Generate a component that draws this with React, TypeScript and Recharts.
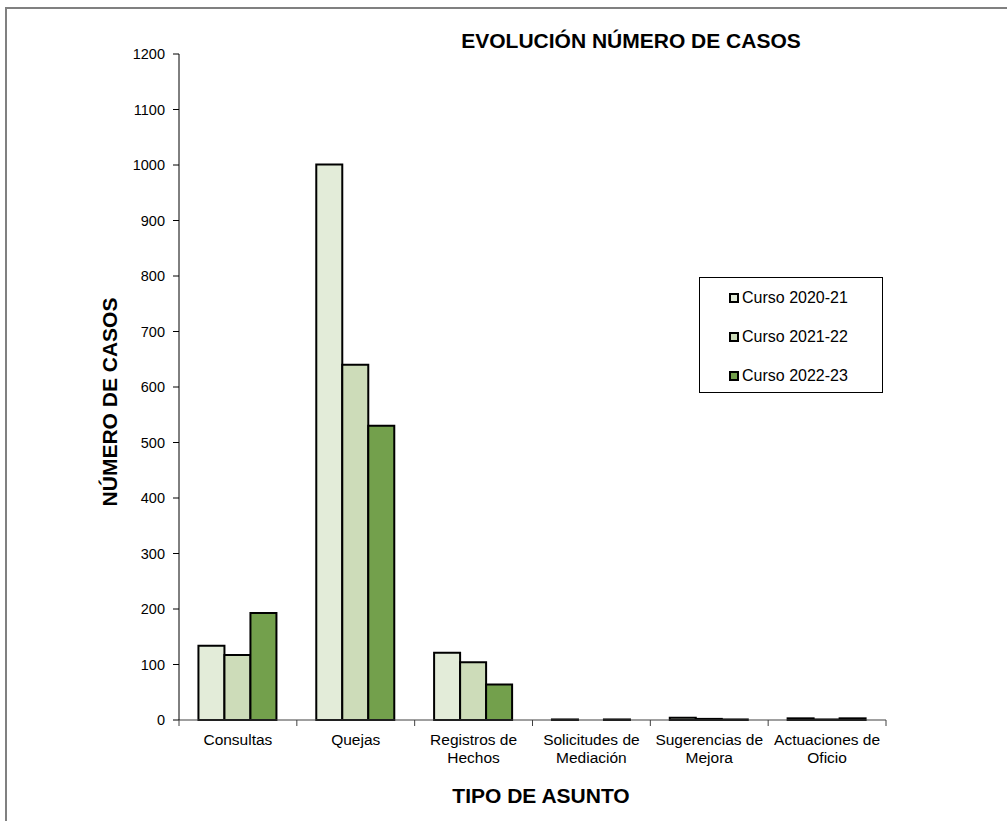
import React from 'react';
import { BarChart, Bar, XAxis, YAxis, Legend, Label } from 'recharts';

const categories = [
  'Consultas',
  'Quejas',
  'Registros de Hechos',
  'Solicitudes de Mediación',
  'Sugerencias de Mejora',
  'Actuaciones de Oficio',
];
const curso2021 = [134, 1001, 121, 1, 4, 3];
const curso2122 = [117, 640, 104, 0, 2, 1];
const curso2223 = [193, 530, 64, 1, 1, 3];
const seriesNames = ['Curso 2020-21', 'Curso 2021-22', 'Curso 2022-23'];
const seriesColors = ['#E3ECD9', '#CDDCB9', '#73A04C'];
const yTicks = [0, 100, 200, 300, 400, 500, 600, 700, 800, 900, 1000, 1100, 1200];

const FONT = '"Liberation Sans", Arial, sans-serif';
const PLOT_WIDTH = 707;

const data = categories.map((name, i) => ({
  name,
  c2021: curso2021[i],
  c2122: curso2122[i],
  c2223: curso2223[i],
}));

// category labels wrap the last word onto a second line, ticks sit on the boundaries
const CategoryTick = (props: any) => {
  const { x, y, payload, index } = props;
  const band = PLOT_WIDTH / categories.length;
  const words = String(payload.value).split(' ');
  const lines = words.length > 1 ? [words.slice(0, -1).join(' '), words[words.length - 1]] : words;
  return (
    <g>
      {index === 0 && <line x1={x - band / 2} x2={x - band / 2} y1={y} y2={y + 6} stroke="#404040" />}
      <line x1={x + band / 2} x2={x + band / 2} y1={y} y2={y + 6} stroke="#404040" />
      <text x={x} y={y} textAnchor="middle" fontSize={15.5} fontFamily={FONT} fill="#000">
        {lines.map((l, i) => (
          <tspan key={i} x={x} dy={i === 0 ? 25 : 18}>{l}</tspan>
        ))}
      </text>
    </g>
  );
};

const LegendBox = (props: any) => {
  const { payload } = props;
  return (
    <div style={{ boxSizing: 'border-box', width: 184, height: 116, border: '1px solid #000', paddingTop: 0.5, background: '#fff', fontFamily: FONT, fontSize: 16, color: '#000' }}>
      {(payload || []).map((entry: any) => (
        <div key={entry.value} style={{ height: 39, display: 'flex', alignItems: 'center', paddingLeft: 29 }}>
          <span style={{ boxSizing: 'border-box', width: 10, height: 10, border: '2px solid #000', background: entry.color, marginRight: 3 }} />
          <span>{entry.value}</span>
        </div>
      ))}
    </div>
  );
};

export default function App() {
  return (
    <div style={{ position: 'absolute', left: 0, top: 0, width: 1007, height: 821, background: '#fff', overflow: 'hidden' }}>
      <div style={{ position: 'absolute', left: 5, top: 7, width: 1002, height: 814, borderLeft: '2px solid #808080', borderTop: '2px solid #808080', boxSizing: 'border-box' }} />
      <div style={{ position: 'absolute', left: 381, top: 30, width: 500, textAlign: 'center', fontFamily: FONT, fontWeight: 'bold', fontSize: 21, lineHeight: '21px', color: '#000' }}>
        EVOLUCIÓN NÚMERO DE CASOS
      </div>
      <div style={{ position: 'absolute', left: 0, top: 0 }}>
        <BarChart
          width={1007}
          height={821}
          data={data}
          margin={{ top: 54, right: 121, bottom: 0, left: 0 }}
          barGap={0}
          barCategoryGap="16.5%"
        >
          <XAxis
            dataKey="name"
            height={101}
            interval={0}
            tickSize={0}
            tickMargin={0}
            tickLine={false}
            axisLine={{ stroke: '#404040' }}
            tick={<CategoryTick />}
          >
            <Label
              content={() => (
                <text x={541} y={803} textAnchor="middle" fontFamily={FONT} fontWeight="bold" fontSize={21} fill="#000">
                  TIPO DE ASUNTO
                </text>
              )}
            />
          </XAxis>
          <YAxis
            width={179}
            domain={[0, 1200]}
            ticks={yTicks}
            interval={0}
            tickSize={6}
            tickMargin={8}
            axisLine={{ stroke: '#000' }}
            tickLine={{ stroke: '#000' }}
            tick={{ fill: '#000', fontSize: 14.5, fontFamily: FONT }}
          >
            <Label
              content={() => (
                <text x={117} y={402} transform="rotate(-90 117 402)" textAnchor="middle" fontFamily={FONT} fontWeight="bold" fontSize={21} fill="#000">
                  NÚMERO DE CASOS
                </text>
              )}
            />
          </YAxis>
          <Legend
            layout="vertical"
            align="center"
            verticalAlign="middle"
            content={<LegendBox />}
            wrapperStyle={{ position: 'absolute', left: 699, top: 277, width: 184, height: 116 }}
          />
          <Bar dataKey="c2021" name={seriesNames[0]} fill={seriesColors[0]} stroke="#000" strokeWidth={2} isAnimationActive={false} />
          <Bar dataKey="c2122" name={seriesNames[1]} fill={seriesColors[1]} stroke="#000" strokeWidth={2} isAnimationActive={false} />
          <Bar dataKey="c2223" name={seriesNames[2]} fill={seriesColors[2]} stroke="#000" strokeWidth={2} isAnimationActive={false} />
        </BarChart>
      </div>
    </div>
  );
}
